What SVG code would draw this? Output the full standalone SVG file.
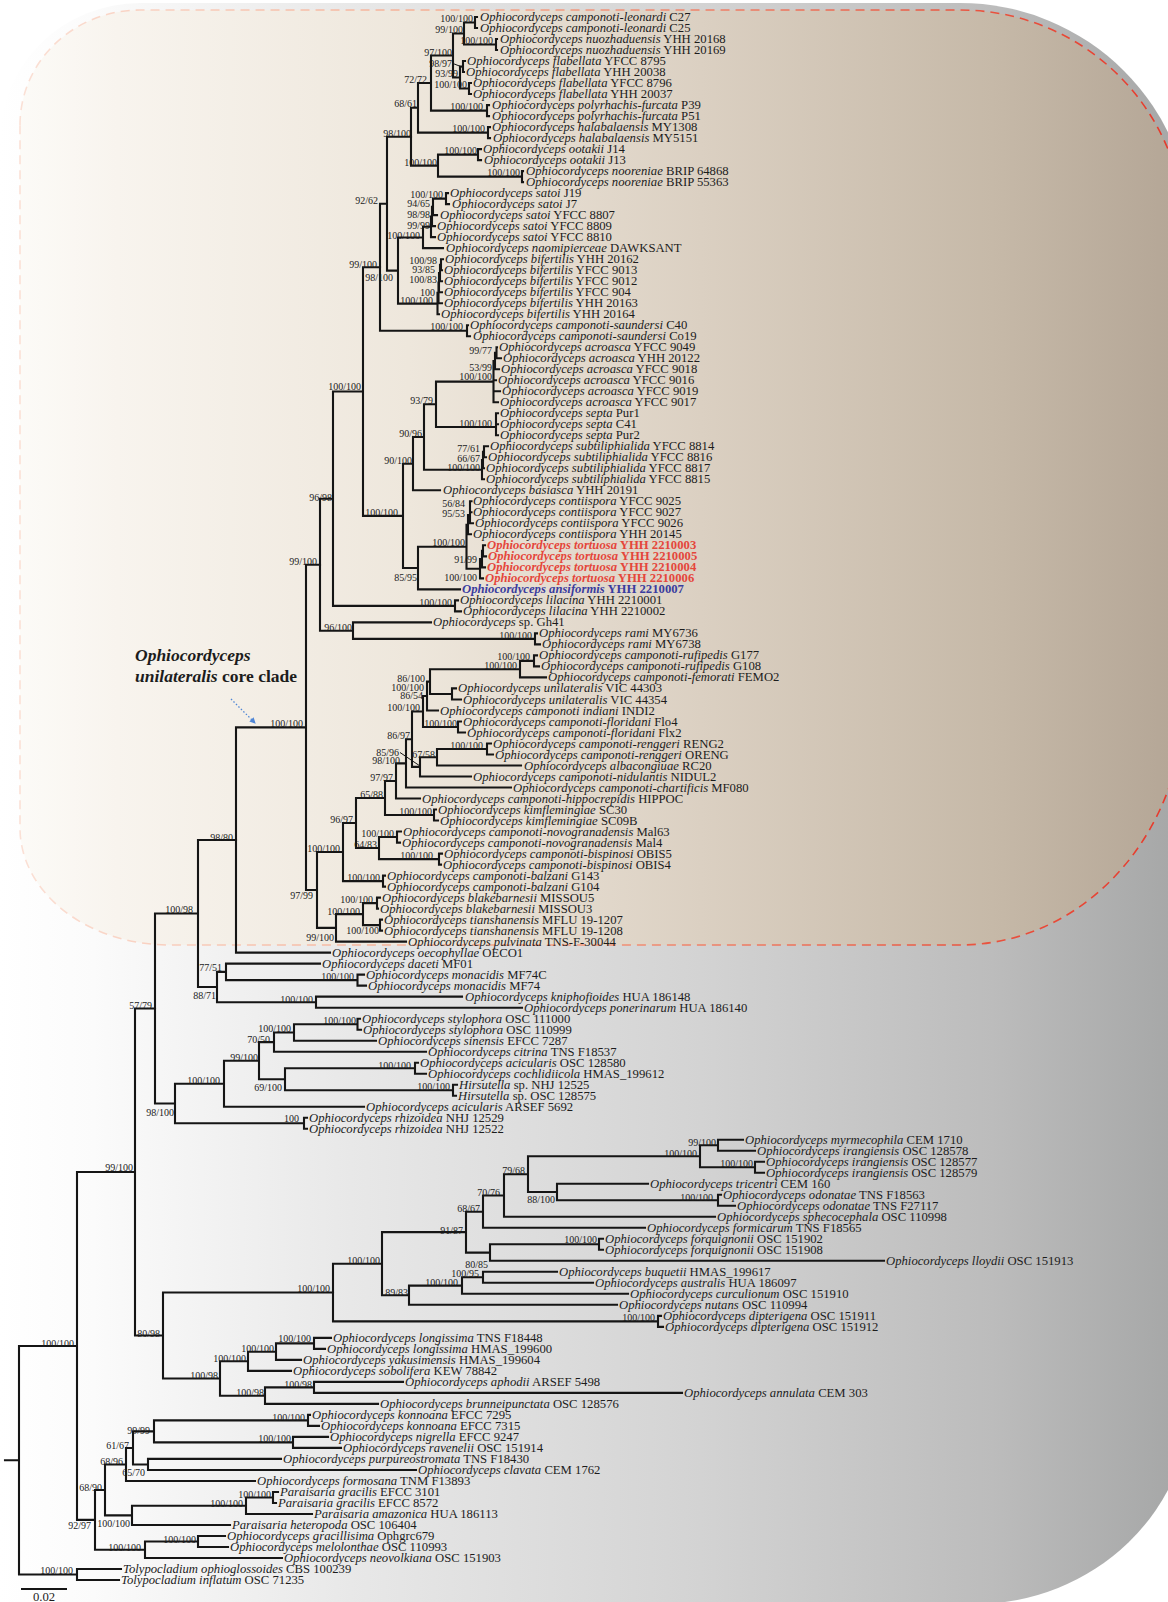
<svg xmlns="http://www.w3.org/2000/svg" width="1168" height="1602" viewBox="0 0 1168 1602">
<defs>
<linearGradient id="gg" x1="0" y1="0" x2="1168" y2="0" gradientUnits="userSpaceOnUse">
<stop offset="0" stop-color="#ffffff"/><stop offset="0.08" stop-color="#fbfbfb"/><stop offset="0.3" stop-color="#e8e8e8"/><stop offset="0.6" stop-color="#d3d3d3"/><stop offset="0.85" stop-color="#bcbcbc"/><stop offset="1" stop-color="#a7a8a8"/>
</linearGradient>
<linearGradient id="tg" x1="0" y1="0" x2="1168" y2="0" gradientUnits="userSpaceOnUse">
<stop offset="0" stop-color="#fdfcf9"/><stop offset="0.1" stop-color="#f8f4ee"/><stop offset="0.35" stop-color="#eee7dc"/><stop offset="0.6" stop-color="#dbd0c2"/><stop offset="0.85" stop-color="#c6b9a8"/><stop offset="1" stop-color="#b5a797"/>
</linearGradient>
<linearGradient id="dg" x1="0" y1="0" x2="1168" y2="0" gradientUnits="userSpaceOnUse">
<stop offset="0" stop-color="#fbe3d9"/><stop offset="0.4" stop-color="#f4aa8e"/><stop offset="0.8" stop-color="#ea5a44"/><stop offset="1" stop-color="#e63a2c"/>
</linearGradient>
<marker id="ah" markerWidth="6" markerHeight="6" refX="5" refY="3" orient="auto" markerUnits="userSpaceOnUse"><path d="M0,0 L6,3 L0,6 z" fill="#4f86d6"/></marker>
</defs>
<style>
text{font-family:"Liberation Serif","Times New Roman",serif;fill:#1c1c1c}
.tip text{font-size:12.7px}
.i{font-style:italic}
.sup text{font-size:10px;text-anchor:end}
.br{fill:none;stroke:#151515;stroke-width:2.1;stroke-linecap:square}
.red text{fill:#e5463b;font-weight:bold}
.blue text{fill:#3a3c9e;font-weight:bold}
</style>
<rect width="1168" height="1602" fill="#ffffff"/>
<path d="M0,140 A140,137 0 0 1 140,3 H960 A232,232 0 0 1 1192,235 V1394 A217,210 0 0 1 975,1604 H0 Z" fill="url(#gg)"/>
<path d="M20,125 A120,115 0 0 1 140,10 H960 A225,225 0 0 1 1185,235 V695 A225,250 0 0 1 960,945 H170 A150,117 0 0 1 20,828 Z" fill="url(#tg)" stroke="url(#dg)" stroke-width="1.6" stroke-dasharray="9 6"/>

<g id="connectors">
<path class="br" d="M475 17V28 M475 17H477 M475 28H477 M496 39V50 M496 39H497 M496 50H497 M464 22.5V44.5 M464 22.5H475 M464 44.5H496 M463 61V72 M463 61H465 M463 72H464 M469 83V94 M469 83H471 M469 94H471 M460 66.5V88.5 M460 66.5H463 M460 88.5H469 M453 33.5V77.5 M453 33.5H464 M453 77.5H460 M487 105.1V116.1 M487 105.1H489 M487 116.1H489 M431 55.5V110.6 M431 55.5H453 M431 110.6H487 M488 127.1V138.1 M488 127.1H490 M488 138.1H490 M418 83V132.6 M418 83H431 M418 132.6H488 M478 149.1V160.1 M478 149.1H481 M478 160.1H481 M522 171.1V182.1 M522 171.1H523 M522 182.1H523 M438 154.6V176.6 M438 154.6H478 M438 176.6H522 M411 107.8V165.6 M411 107.8H418 M411 165.6H438"/>
<path class="br" d="M446 193.1V204.1 M446 193.1H448 M446 204.1H449 M433 198.6V215.1 M433 198.6H446 M433 215.1H437 M432 206.9V226.1 M432 226.1H435 M431 216.5V237.1 M431 237.1H435 M423 226.8V248.1 M423 226.8H431 M423 248.1H443 M441 259.2V270.2 M441 259.2H443 M441 270.2H442 M440 264.7V281.2 M440 281.2H442 M439 273V292.2 M439 292.2H442 M438.5 282.6V303.2 M438.5 303.2H442 M437.5 292.9V314.2 M437.5 314.2H439 M398 237.5V303.6 M398 237.5H423 M398 303.6H437.5 M387 136.7V270.6 M387 136.7H411 M387 270.6H398 M467 325.2V336.2 M467 325.2H468 M467 336.2H470 M380 203.7V330.7 M380 203.7H387 M380 330.7H467"/>
<path class="br" d="M496.5 347.2V358.2 M496.5 347.2H497 M496.5 358.2H501 M495 352.7V369.2 M495 369.2H499 M493.5 361V402.2 M493.5 380.2H496 M493.5 391.2H500 M493.5 402.2H498 M496 413.3V435.3 M496 413.3H498 M496 424.3H498 M496 435.3H498 M436 381.6V427 M436 381.6H493.5 M436 427H496 M484 446.3V457.3 M484 446.3H488 M484 457.3H486 M483 451.8V468.3 M483 468.3H484 M482 460V479.3 M482 479.3H484 M424 404.3V469.7 M424 404.3H436 M424 469.7H482 M413 437V490.3 M413 437H424 M413 490.3H440 M483 545.3V556.4 M483 545.3H485 M483 556.4H486 M482 550.9V567.4 M482 567.4H485 M480 559V578.4 M480 578.4H483 M470 501.3V523.3 M470 501.3H471.5 M470 512.3H471.5 M470 523.3H473 M468 515V534.3 M468 534.3H471 M466.5 524.7V568.7 M466.5 524.7H468 M466.5 568.7H480 M418 546.7V589.4 M418 546.7H466.5 M418 589.4H460 M403 463.7V568 M403 463.7H413 M403 568H418 M363 267.2V515.9 M363 267.2H380 M363 515.9H403 M455 600.4V611.4 M455 600.4H458 M455 611.4H461 M333 391.5V605.9 M333 391.5H363 M333 605.9H455 M535 633.4V644.4 M535 633.4H537 M535 644.4H540 M353 622.4V638.9 M353 622.4H431 M353 638.9H535 M320 498.7V630.7 M320 498.7H333 M320 630.7H353"/>
<path class="br" d="M534 655.4V666.4 M534 655.4H537 M534 666.4H539 M520 660.9V677.4 M520 660.9H534 M520 677.4H546 M452 688.4V699.5 M452 688.4H456 M452 699.5H461 M430 669.2V694 M430 669.2H520 M430 694H452 M427 681.6V710.5 M427 681.6H430 M427 710.5H438 M458 721.5V732.5 M458 721.5H461 M458 732.5H465 M423 696V727 M423 696H427 M423 727H458 M487 743.5V754.5 M487 743.5H491 M487 754.5H493 M437 749V765.5 M437 749H487 M437 765.5H521 M420 757.3V776.5 M420 757.3H437 M420 776.5H471 M412 711.5V766.9 M412 711.5H423 M412 766.9H420 M406 739.2V787.5 M406 739.2H412 M406 787.5H511 M396 763.4V798.5 M396 763.4H406 M396 798.5H420 M434 809.5V820.5 M434 809.5H436 M434 820.5H438 M385 781V815 M385 781H396 M385 815H434 M397 831.5V842.6 M397 831.5H401 M397 842.6H400 M439 853.6V864.6 M439 853.6H442 M439 864.6H441 M379 837V859.1 M379 837H397 M379 859.1H439 M356 798V848 M356 798H385 M356 848H379 M383 875.6V886.6 M383 875.6H385 M383 886.6H385 M343 823V881.1 M343 823H356 M343 881.1H383 M377 897.6V908.6 M377 897.6H380 M377 908.6H378 M380 919.6V930.6 M380 919.6H382 M380 930.6H382 M363 903.1V925.1 M363 903.1H377 M363 925.1H380 M336 914.1V941.6 M336 914.1H363 M336 941.6H406 M317 852V927.9 M317 852H343 M317 927.9H336 M306 564.7V890 M306 564.7H320 M306 890H317 M236 727.4V952.6 M236 727.4H306 M236 952.6H330"/>
<path class="br" d="M357.5 974.6V985.6 M357.5 974.6H364 M357.5 985.6H366 M226 963.6V980.1 M226 963.6H320 M226 980.1H357.5 M316 996.6V1007.7 M316 996.6H462 M316 1007.7H522 M217 971.9V1002.2 M217 971.9H226 M217 1002.2H316 M198 840V987 M198 840H236 M198 987H217 M357.5 1018.7V1029.7 M357.5 1018.7H360 M357.5 1029.7H361 M294 1024.2V1040.7 M294 1024.2H357.5 M294 1040.7H376 M274 1032.5V1051.7 M274 1032.5H294 M274 1051.7H426 M415 1062.7V1073.7 M415 1062.7H418 M415 1073.7H426 M453 1084.7V1095.7 M453 1084.7H457 M453 1095.7H456 M285 1068.2V1090.2 M285 1068.2H415 M285 1090.2H453 M259 1042.1V1079.2 M259 1042.1H274 M259 1079.2H285 M224 1060.7V1106.7 M224 1060.7H259 M224 1106.7H364 M304 1117.7V1128.7 M304 1117.7H307 M304 1128.7H307 M175 1083.7V1123.2 M175 1083.7H224 M175 1123.2H304 M155 913.5V1103.5 M155 913.5H198 M155 1103.5H175"/>
<path class="br" d="M718 1139.7V1150.7 M718 1139.7H743 M718 1150.7H755 M755 1161.8V1172.8 M755 1161.8H764 M755 1172.8H764 M700 1145.2V1167.3 M700 1145.2H718 M700 1167.3H755 M718 1194.8V1205.8 M718 1194.8H721 M718 1205.8H735 M557 1183.8V1200.3 M557 1183.8H648 M557 1200.3H718 M528 1156.3V1192 M528 1156.3H700 M528 1192H557 M504 1174.2V1216.8 M504 1174.2H528 M504 1216.8H715 M483 1195.5V1227.8 M483 1195.5H504 M483 1227.8H645 M599 1238.8V1249.8 M599 1238.8H603 M599 1249.8H603 M490 1244.3V1260.8 M490 1244.3H599 M490 1260.8H884 M466 1211.7V1252.6 M466 1211.7H483 M466 1252.6H490 M483 1271.8V1282.8 M483 1271.8H557 M483 1282.8H593 M462 1277.3V1293.8 M462 1277.3H483 M462 1293.8H628 M409 1285.6V1304.8 M409 1285.6H462 M409 1304.8H617 M382 1232.1V1295.2 M382 1232.1H466 M382 1295.2H409 M658 1315.9V1326.9 M658 1315.9H661 M658 1326.9H663 M333 1263.7V1321.4 M333 1263.7H382 M333 1321.4H658"/>
<path class="br" d="M314 1337.9V1348.9 M314 1337.9H331 M314 1348.9H325 M276 1343.4V1359.9 M276 1343.4H314 M276 1359.9H301 M248 1351.7V1370.9 M248 1351.7H276 M248 1370.9H291 M314 1381.9V1392.9 M314 1381.9H403 M314 1392.9H682 M265 1387.4V1403.9 M265 1387.4H314 M265 1403.9H378 M220 1361.3V1395.7 M220 1361.3H248 M220 1395.7H265 M163 1292.5V1378.5 M163 1292.5H333 M163 1378.5H220 M135 1008.5V1335.5 M135 1008.5H155 M135 1335.5H163 M308 1414.9V1425.9 M308 1414.9H310 M308 1425.9H319 M293 1436.9V1447.9 M293 1436.9H328 M293 1447.9H341 M154 1420.4V1442.4 M154 1420.4H308 M154 1442.4H293 M148 1458.9V1470 M148 1458.9H281 M148 1470H416 M133 1431.4V1464.5 M133 1431.4H154 M133 1464.5H148 M126 1448V1481 M126 1448H133 M126 1481H255 M273 1492V1503 M273 1492H278 M273 1503H276 M246 1497.5V1514 M246 1497.5H273 M246 1514H312 M132 1505.8V1525 M132 1505.8H246 M132 1525H230 M105 1464.5V1515.4 M105 1464.5H126 M105 1515.4H132 M198 1536V1547 M198 1536H225 M198 1547H228 M145 1541.5V1558 M145 1541.5H198 M145 1558H282 M95 1490V1549.8 M95 1490H105 M95 1549.8H145 M77 1172V1519.9 M77 1172H135 M77 1519.9H95 M77 1569V1580 M77 1569H121 M77 1580H119 M19 1346V1574.5 M19 1346H77 M19 1574.5H77 M5 1460.3H19"/>
<path d="M453 63.5 L462 67 M400 752.5 L420 766" stroke="#151515" stroke-width="1" fill="none"/>
<path d="M231 699 L255 723" stroke="#4f86d6" stroke-width="1.3" stroke-dasharray="1.5 2" fill="none" marker-end="url(#ah)"/>
<path d="M21 1589H67" stroke="#151515" stroke-width="2"/>
</g>

<g class="sup" id="supports">
<text x="473" y="21.5">100/100</text><text x="463" y="32.5">99/100</text><text x="493" y="43.5">100/100</text><text x="452" y="55.5">97/100</text><text x="452" y="66.5">98/97</text><text x="458" y="76.5">93/99</text><text x="467" y="87.5">100/100</text><text x="427" y="82.5">72/72</text><text x="483" y="109.5">100/100</text><text x="417" y="106.5">68/61</text><text x="485" y="131.5">100/100</text><text x="411" y="136.5">98/100</text><text x="477" y="153.5">100/100</text><text x="437" y="165.5">100/100</text><text x="520" y="175.5">100/100</text>
<text x="443" y="197.5">100/100</text><text x="378" y="203.5">92/62</text><text x="430" y="207">94/65</text><text x="430" y="218">98/98</text><text x="430" y="229">99/99</text><text x="420" y="238.5">100/100</text><text x="437" y="263.5">100/98</text><text x="377" y="267.5">99/100</text><text x="435" y="272.5">93/85</text><text x="393" y="280.5">98/100</text><text x="437" y="282.5">100/83</text><text x="435" y="295.5">100</text><text x="433" y="303.5">100/100</text><text x="463" y="329.5">100/100</text>
<text x="492" y="353.5">99/77</text><text x="492" y="371">53/99</text><text x="492" y="380">100/100</text><text x="361" y="389.5">100/100</text><text x="433" y="403.5">93/79</text><text x="492" y="426.5">100/100</text><text x="422" y="436.5">90/96</text><text x="480" y="451.5">77/61</text><text x="480" y="461.5">66/67</text><text x="412" y="463.5">90/100</text><text x="480" y="470.5">100/100</text><text x="332" y="500.5">96/98</text><text x="465" y="506.5">56/84</text><text x="398" y="515.5">100/100</text><text x="465" y="516.5">95/53</text><text x="465" y="545.5">100/100</text><text x="477" y="562.5">91/99</text><text x="317" y="564.5">99/100</text><text x="477" y="580.5">100/100</text><text x="417" y="580.5">85/95</text><text x="452" y="605.5">100/100</text><text x="352" y="630.5">96/100</text><text x="532" y="638.5">100/100</text>
<text x="530" y="659.5">100/100</text><text x="517" y="668.5">100/100</text><text x="425" y="681.5">86/100</text><text x="424" y="690.5">100/100</text><text x="423" y="698.5">86/54</text><text x="420" y="710.5">100/100</text><text x="303" y="726.5">100/100</text><text x="457" y="726.5">100/100</text><text x="410" y="738.5">86/97</text><text x="483" y="748.5">100/100</text><text x="399" y="755.5">85/96</text><text x="435" y="757.5">67/58</text><text x="400" y="763.5">98/100</text><text x="393" y="780.5">97/97</text><text x="383" y="797.5">65/88</text><text x="432" y="814.5">100/100</text><text x="353" y="822.5">96/97</text><text x="394" y="836.5">100/100</text><text x="233" y="840.5">98/80</text><text x="377" y="847.5">64/83</text><text x="340" y="851.5">100/100</text><text x="433" y="858.5">100/100</text><text x="380" y="880.5">100/100</text><text x="313" y="898.5">97/99</text><text x="373" y="902.5">100/100</text><text x="193" y="912.5">100/98</text><text x="360" y="914.5">100/100</text><text x="379" y="933.5">100/100</text><text x="334" y="940.5">99/100</text>
<text x="222" y="970.5">77/51</text><text x="354" y="979.5">100/100</text><text x="216" y="998.5">88/71</text><text x="313" y="1002.5">100/100</text><text x="152" y="1008.5">57/79</text><text x="356" y="1023.5">100/100</text><text x="291" y="1031.5">100/100</text><text x="270" y="1042.5">70/50</text><text x="258" y="1060.5">99/100</text><text x="411" y="1068.5">100/100</text><text x="220" y="1083.5">100/100</text><text x="450" y="1089.5">100/100</text><text x="282" y="1090.5">69/100</text><text x="174" y="1115.5">98/100</text><text x="299" y="1121.5">100</text><text x="133" y="1170.5">99/100</text>
<text x="716" y="1145.5">99/100</text><text x="697" y="1156.5">100/100</text><text x="753" y="1166.5">100/100</text><text x="525" y="1173.5">79/68</text><text x="500" y="1195.5">70/76</text><text x="713" y="1200.5">100/100</text><text x="555" y="1202.5">88/100</text><text x="480" y="1211.5">68/67</text><text x="463" y="1233.5">91/87</text><text x="597" y="1242.5">100/100</text><text x="380" y="1263.5">100/100</text><text x="488" y="1267.5">80/85</text><text x="479" y="1277">100/95</text><text x="458" y="1286">100/100</text><text x="330" y="1291.5">100/100</text><text x="408" y="1295.5">89/83</text><text x="655" y="1320.5">100/100</text><text x="160" y="1336.5">80/98</text><text x="311" y="1341.5">100/100</text><text x="74" y="1346.5">100/100</text><text x="274" y="1351.5">100/100</text><text x="246" y="1361.5">100/100</text><text x="218" y="1378.5">100/98</text><text x="312" y="1387.5">100/98</text><text x="264" y="1395.5">100/98</text>
<text x="305" y="1420.5">100/100</text><text x="150" y="1433.5">99/99</text><text x="291" y="1441.5">100/100</text><text x="129" y="1448.5">61/67</text><text x="123" y="1464.5">68/96</text><text x="145" y="1475.5">65/70</text><text x="102" y="1490.5">68/90</text><text x="271" y="1497.5">100/100</text><text x="243" y="1506.5">100/100</text><text x="130" y="1526.5">100/100</text><text x="91" y="1528.5">92/97</text><text x="196" y="1542.5">100/100</text><text x="141" y="1550.5">100/100</text><text x="73" y="1573.5">100/100</text>
</g>

<g class="tip">
<g id="tip001"><text x="480" y="21"><tspan class="i">Ophiocordyceps camponoti-leonardi</tspan> C27</text></g>
<g id="tip002"><text x="480" y="32"><tspan class="i">Ophiocordyceps camponoti-leonardi</tspan> C25</text></g>
<g id="tip003"><text x="500" y="43"><tspan class="i">Ophiocordyceps nuozhaduensis</tspan> YHH 20168</text></g>
<g id="tip004"><text x="500" y="54"><tspan class="i">Ophiocordyceps nuozhaduensis</tspan> YHH 20169</text></g>
<g id="tip005"><text x="467" y="65"><tspan class="i">Ophiocordyceps flabellata</tspan> YFCC 8795</text></g>
<g id="tip006"><text x="466" y="76"><tspan class="i">Ophiocordyceps flabellata</tspan> YHH 20038</text></g>
<g id="tip007"><text x="473" y="87"><tspan class="i">Ophiocordyceps flabellata</tspan> YFCC 8796</text></g>
<g id="tip008"><text x="473" y="98"><tspan class="i">Ophiocordyceps flabellata</tspan> YHH 20037</text></g>
<g id="tip009"><text x="492" y="109.1"><tspan class="i">Ophiocordyceps polyrhachis-furcata</tspan> P39</text></g>
<g id="tip010"><text x="492" y="120.1"><tspan class="i">Ophiocordyceps polyrhachis-furcata</tspan> P51</text></g>
<g id="tip011"><text x="492" y="131.1"><tspan class="i">Ophiocordyceps halabalaensis</tspan> MY1308</text></g>
<g id="tip012"><text x="493" y="142.1"><tspan class="i">Ophiocordyceps halabalaensis</tspan>  MY5151</text></g>
<g id="tip013"><text x="483" y="153.1"><tspan class="i">Ophiocordyceps ootakii</tspan> J14</text></g>
<g id="tip014"><text x="484" y="164.1"><tspan class="i">Ophiocordyceps ootakii</tspan> J13</text></g>
<g id="tip015"><text x="526" y="175.1"><tspan class="i">Ophiocordyceps nooreniae</tspan> BRIP 64868</text></g>
<g id="tip016"><text x="526" y="186.1"><tspan class="i">Ophiocordyceps nooreniae</tspan> BRIP 55363</text></g>
<g id="tip017"><text x="450" y="197.1"><tspan class="i">Ophiocordyceps satoi</tspan> J19</text></g>
<g id="tip018"><text x="452" y="208.1"><tspan class="i">Ophiocordyceps satoi</tspan> J7</text></g>
<g id="tip019"><text x="440" y="219.1"><tspan class="i">Ophiocordyceps satoi</tspan> YFCC 8807</text></g>
<g id="tip020"><text x="437" y="230.1"><tspan class="i">Ophiocordyceps satoi</tspan> YFCC 8809</text></g>
<g id="tip021"><text x="437" y="241.1"><tspan class="i">Ophiocordyceps satoi</tspan> YFCC 8810</text></g>
<g id="tip022"><text x="446" y="252.1"><tspan class="i">Ophiocordyceps naomipierceae</tspan> DAWKSANT</text></g>
<g id="tip023"><text x="445" y="263.2"><tspan class="i">Ophiocordyceps bifertilis</tspan> YHH 20162</text></g>
<g id="tip024"><text x="444" y="274.2"><tspan class="i">Ophiocordyceps bifertilis</tspan> YFCC 9013</text></g>
<g id="tip025"><text x="444" y="285.2"><tspan class="i">Ophiocordyceps bifertilis</tspan> YFCC 9012</text></g>
<g id="tip026"><text x="444" y="296.2"><tspan class="i">Ophiocordyceps bifertilis</tspan> YFCC 904</text></g>
<g id="tip027"><text x="444" y="307.2"><tspan class="i">Ophiocordyceps bifertilis</tspan> YHH 20163</text></g>
<g id="tip028"><text x="441" y="318.2"><tspan class="i">Ophiocordyceps bifertilis</tspan> YHH 20164</text></g>
<g id="tip029"><text x="470" y="329.2"><tspan class="i">Ophiocordyceps camponoti-saundersi</tspan> C40</text></g>
<g id="tip030"><text x="473" y="340.2"><tspan class="i">Ophiocordyceps camponoti-saundersi</tspan> Co19</text></g>
<g id="tip031"><text x="499" y="351.2"><tspan class="i">Ophiocordyceps acroasca</tspan> YFCC 9049</text></g>
<g id="tip032"><text x="503" y="362.2"><tspan class="i">Ophiocordyceps acroasca</tspan> YHH 20122</text></g>
<g id="tip033"><text x="501" y="373.2"><tspan class="i">Ophiocordyceps acroasca</tspan> YFCC 9018</text></g>
<g id="tip034"><text x="498" y="384.2"><tspan class="i">Ophiocordyceps acroasca</tspan> YFCC 9016</text></g>
<g id="tip035"><text x="502" y="395.2"><tspan class="i">Ophiocordyceps acroasca</tspan> YFCC 9019</text></g>
<g id="tip036"><text x="500" y="406.2"><tspan class="i">Ophiocordyceps acroasca</tspan> YFCC 9017</text></g>
<g id="tip037"><text x="500" y="417.3"><tspan class="i">Ophiocordyceps septa</tspan> Pur1</text></g>
<g id="tip038"><text x="500" y="428.3"><tspan class="i">Ophiocordyceps septa</tspan> C41</text></g>
<g id="tip039"><text x="500" y="439.3"><tspan class="i">Ophiocordyceps septa</tspan> Pur2</text></g>
<g id="tip040"><text x="490" y="450.3"><tspan class="i">Ophiocordyceps subtiliphialida</tspan> YFCC 8814</text></g>
<g id="tip041"><text x="488" y="461.3"><tspan class="i">Ophiocordyceps subtiliphialida</tspan> YFCC 8816</text></g>
<g id="tip042"><text x="486" y="472.3"><tspan class="i">Ophiocordyceps subtiliphialida</tspan> YFCC 8817</text></g>
<g id="tip043"><text x="486" y="483.3"><tspan class="i">Ophiocordyceps subtiliphialida</tspan> YFCC 8815</text></g>
<g id="tip044"><text x="443" y="494.3"><tspan class="i">Ophiocordyceps basiasca</tspan> YHH 20191</text></g>
<g id="tip045"><text x="473" y="505.3"><tspan class="i">Ophiocordyceps contiispora</tspan> YFCC 9025</text></g>
<g id="tip046"><text x="473" y="516.3"><tspan class="i">Ophiocordyceps contiispora</tspan> YFCC 9027</text></g>
<g id="tip047"><text x="475" y="527.3"><tspan class="i">Ophiocordyceps contiispora</tspan> YFCC 9026</text></g>
<g id="tip048"><text x="473" y="538.3"><tspan class="i">Ophiocordyceps contiispora</tspan> YHH 20145</text></g>
<g id="tip049" class="red"><text x="487" y="549.3"><tspan class="i">Ophiocordyceps tortuosa</tspan> YHH 2210003</text></g>
<g id="tip050" class="red"><text x="488" y="560.4"><tspan class="i">Ophiocordyceps tortuosa</tspan> YHH 2210005</text></g>
<g id="tip051" class="red"><text x="487" y="571.4"><tspan class="i">Ophiocordyceps tortuosa</tspan> YHH 2210004</text></g>
<g id="tip052" class="red"><text x="485" y="582.4"><tspan class="i">Ophiocordyceps tortuosa</tspan> YHH 2210006</text></g>
<g id="tip053" class="blue"><text x="462" y="593.4"><tspan class="i">Ophiocordyceps ansiformis</tspan> YHH 2210007</text></g>
<g id="tip054"><text x="460" y="604.4"><tspan class="i">Ophiocordyceps lilacina</tspan> YHH 2210001</text></g>
<g id="tip055"><text x="463" y="615.4"><tspan class="i">Ophiocordyceps lilacina</tspan> YHH 2210002</text></g>
<g id="tip056"><text x="433" y="626.4"><tspan class="i">Ophiocordyceps</tspan> sp. Gh41</text></g>
<g id="tip057"><text x="539" y="637.4"><tspan class="i">Ophiocordyceps rami</tspan> MY6736</text></g>
<g id="tip058"><text x="542" y="648.4"><tspan class="i">Ophiocordyceps rami</tspan> MY6738</text></g>
<g id="tip059"><text x="539" y="659.4"><tspan class="i">Ophiocordyceps camponoti-rufipedis</tspan> G177</text></g>
<g id="tip060"><text x="541" y="670.4"><tspan class="i">Ophiocordyceps camponoti-rufipedis</tspan> G108</text></g>
<g id="tip061"><text x="548" y="681.4"><tspan class="i">Ophiocordyceps camponoti-femorati</tspan> FEMO2</text></g>
<g id="tip062"><text x="458" y="692.4"><tspan class="i">Ophiocordyceps unilateralis</tspan> VIC 44303</text></g>
<g id="tip063"><text x="463" y="703.5"><tspan class="i">Ophiocordyceps unilateralis</tspan> VIC 44354</text></g>
<g id="tip064"><text x="440" y="714.5"><tspan class="i">Ophiocordyceps camponoti indiani</tspan> INDI2</text></g>
<g id="tip065"><text x="463" y="725.5"><tspan class="i">Ophiocordyceps camponoti-floridani</tspan> Flo4</text></g>
<g id="tip066"><text x="467" y="736.5"><tspan class="i">Ophiocordyceps camponoti-floridani</tspan> Flx2</text></g>
<g id="tip067"><text x="493" y="747.5"><tspan class="i">Ophiocordyceps camponoti-renggeri</tspan> RENG2</text></g>
<g id="tip068"><text x="495" y="758.5"><tspan class="i">Ophiocordyceps camponoti-renggeri</tspan> ORENG</text></g>
<g id="tip069"><text x="524" y="769.5"><tspan class="i">Ophiocordyceps albacongiuae</tspan> RC20</text></g>
<g id="tip070"><text x="473" y="780.5"><tspan class="i">Ophiocordyceps camponoti-nidulantis</tspan> NIDUL2</text></g>
<g id="tip071"><text x="513" y="791.5"><tspan class="i">Ophiocordyceps camponoti-chartificis</tspan> MF080</text></g>
<g id="tip072"><text x="422" y="802.5"><tspan class="i">Ophiocordyceps camponoti-hippocrepidis</tspan> HIPPOC</text></g>
<g id="tip073"><text x="438" y="813.5"><tspan class="i">Ophiocordyceps kimflemingiae</tspan> SC30</text></g>
<g id="tip074"><text x="440" y="824.5"><tspan class="i">Ophiocordyceps kimflemingiae</tspan> SC09B</text></g>
<g id="tip075"><text x="403" y="835.5"><tspan class="i">Ophiocordyceps camponoti-novogranadensis</tspan> Mal63</text></g>
<g id="tip076"><text x="402" y="846.6"><tspan class="i">Ophiocordyceps camponoti-novogranadensis</tspan> Mal4</text></g>
<g id="tip077"><text x="444" y="857.6"><tspan class="i">Ophiocordyceps camponoti-bispinosi</tspan> OBIS5</text></g>
<g id="tip078"><text x="443" y="868.6"><tspan class="i">Ophiocordyceps camponoti-bispinosi</tspan> OBIS4</text></g>
<g id="tip079"><text x="387" y="879.6"><tspan class="i">Ophiocordyceps camponoti-balzani</tspan> G143</text></g>
<g id="tip080"><text x="387" y="890.6"><tspan class="i">Ophiocordyceps camponoti-balzani</tspan> G104</text></g>
<g id="tip081"><text x="382" y="901.6"><tspan class="i">Ophiocordyceps blakebarnesii</tspan> MISSOU5</text></g>
<g id="tip082"><text x="380" y="912.6"><tspan class="i">Ophiocordyceps blakebarnesii</tspan> MISSOU3</text></g>
<g id="tip083"><text x="384" y="923.6"><tspan class="i">Ophiocordyceps tianshanensis</tspan> MFLU 19-1207</text></g>
<g id="tip084"><text x="384" y="934.6"><tspan class="i">Ophiocordyceps tianshanensis</tspan> MFLU 19-1208</text></g>
<g id="tip085"><text x="408" y="945.6"><tspan class="i">Ophiocordyceps pulvinata</tspan> TNS-F-30044</text></g>
<g id="tip086"><text x="332" y="956.6"><tspan class="i">Ophiocordyceps oecophyllae</tspan> OECO1</text></g>
<g id="tip087"><text x="322" y="967.6"><tspan class="i">Ophiocordyceps daceti</tspan> MF01</text></g>
<g id="tip088"><text x="366" y="978.6"><tspan class="i">Ophiocordyceps monacidis</tspan> MF74C</text></g>
<g id="tip089"><text x="368" y="989.6"><tspan class="i">Ophiocordyceps monacidis</tspan> MF74</text></g>
<g id="tip090"><text x="465" y="1000.6"><tspan class="i">Ophiocordyceps kniphofioides</tspan> HUA 186148</text></g>
<g id="tip091"><text x="524" y="1011.7"><tspan class="i">Ophiocordyceps ponerinarum</tspan> HUA 186140</text></g>
<g id="tip092"><text x="362" y="1022.7"><tspan class="i">Ophiocordyceps stylophora</tspan> OSC 111000</text></g>
<g id="tip093"><text x="363" y="1033.7"><tspan class="i">Ophiocordyceps stylophora</tspan> OSC 110999</text></g>
<g id="tip094"><text x="378" y="1044.7"><tspan class="i">Ophiocordyceps sinensis</tspan> EFCC 7287</text></g>
<g id="tip095"><text x="428" y="1055.7"><tspan class="i">Ophiocordyceps citrina</tspan> TNS F18537</text></g>
<g id="tip096"><text x="420" y="1066.7"><tspan class="i">Ophiocordyceps acicularis</tspan> OSC 128580</text></g>
<g id="tip097"><text x="428" y="1077.7"><tspan class="i">Ophiocordyceps cochlidiicola</tspan> HMAS_199612</text></g>
<g id="tip098"><text x="459" y="1088.7"><tspan class="i">Hirsutella</tspan> sp. NHJ 12525</text></g>
<g id="tip099"><text x="458" y="1099.7"><tspan class="i">Hirsutella</tspan> sp. OSC 128575</text></g>
<g id="tip100"><text x="366" y="1110.7"><tspan class="i">Ophiocordyceps acicularis</tspan> ARSEF 5692</text></g>
<g id="tip101"><text x="309" y="1121.7"><tspan class="i">Ophiocordyceps rhizoidea</tspan> NHJ 12529</text></g>
<g id="tip102"><text x="309" y="1132.7"><tspan class="i">Ophiocordyceps rhizoidea</tspan> NHJ 12522</text></g>
<g id="tip103"><text x="745" y="1143.7"><tspan class="i">Ophiocordyceps myrmecophila</tspan> CEM 1710</text></g>
<g id="tip104"><text x="757" y="1154.7"><tspan class="i">Ophiocordyceps irangiensis</tspan> OSC 128578</text></g>
<g id="tip105"><text x="766" y="1165.8"><tspan class="i">Ophiocordyceps irangiensis</tspan> OSC 128577</text></g>
<g id="tip106"><text x="766" y="1176.8"><tspan class="i">Ophiocordyceps irangiensis</tspan> OSC 128579</text></g>
<g id="tip107"><text x="650" y="1187.8"><tspan class="i">Ophiocordyceps tricentri</tspan> CEM 160</text></g>
<g id="tip108"><text x="723" y="1198.8"><tspan class="i">Ophiocordyceps odonatae</tspan> TNS F18563</text></g>
<g id="tip109"><text x="737" y="1209.8"><tspan class="i">Ophiocordyceps odonatae</tspan> TNS F27117</text></g>
<g id="tip110"><text x="717" y="1220.8"><tspan class="i">Ophiocordyceps sphecocephala</tspan> OSC 110998</text></g>
<g id="tip111"><text x="647" y="1231.8"><tspan class="i">Ophiocordyceps formicarum</tspan> TNS F18565</text></g>
<g id="tip112"><text x="605" y="1242.8"><tspan class="i">Ophiocordyceps forquignonii</tspan> OSC 151902</text></g>
<g id="tip113"><text x="605" y="1253.8"><tspan class="i">Ophiocordyceps forquignonii</tspan> OSC 151908</text></g>
<g id="tip114"><text x="886" y="1264.8"><tspan class="i">Ophiocordyceps lloydii</tspan> OSC 151913</text></g>
<g id="tip115"><text x="559" y="1275.8"><tspan class="i">Ophiocordyceps buquetii</tspan> HMAS_199617</text></g>
<g id="tip116"><text x="595" y="1286.8"><tspan class="i">Ophiocordyceps australis</tspan> HUA 186097</text></g>
<g id="tip117"><text x="630" y="1297.8"><tspan class="i">Ophiocordyceps curculionum</tspan> OSC 151910</text></g>
<g id="tip118"><text x="619" y="1308.8"><tspan class="i">Ophiocordyceps nutans</tspan> OSC 110994</text></g>
<g id="tip119"><text x="663" y="1319.9"><tspan class="i">Ophiocordyceps dipterigena</tspan> OSC 151911</text></g>
<g id="tip120"><text x="665" y="1330.9"><tspan class="i">Ophiocordyceps dipterigena</tspan> OSC 151912</text></g>
<g id="tip121"><text x="333" y="1341.9"><tspan class="i">Ophiocordyceps longissima</tspan> TNS F18448</text></g>
<g id="tip122"><text x="327" y="1352.9"><tspan class="i">Ophiocordyceps longissima</tspan> HMAS_199600</text></g>
<g id="tip123"><text x="303" y="1363.9"><tspan class="i">Ophiocordyceps yakusimensis</tspan> HMAS_199604</text></g>
<g id="tip124"><text x="293" y="1374.9"><tspan class="i">Ophiocordyceps sobolifera</tspan> KEW 78842</text></g>
<g id="tip125"><text x="405" y="1385.9"><tspan class="i">Ophiocordyceps aphodii</tspan> ARSEF 5498</text></g>
<g id="tip126"><text x="684" y="1396.9"><tspan class="i">Ophiocordyceps annulata</tspan> CEM 303</text></g>
<g id="tip127"><text x="380" y="1407.9"><tspan class="i">Ophiocordyceps brunneipunctata</tspan> OSC 128576</text></g>
<g id="tip128"><text x="312" y="1418.9"><tspan class="i">Ophiocordyceps konnoana</tspan> EFCC 7295</text></g>
<g id="tip129"><text x="321" y="1429.9"><tspan class="i">Ophiocordyceps konnoana</tspan> EFCC 7315</text></g>
<g id="tip130"><text x="330" y="1440.9"><tspan class="i">Ophiocordyceps nigrella</tspan> EFCC 9247</text></g>
<g id="tip131"><text x="343" y="1451.9"><tspan class="i">Ophiocordyceps ravenelii</tspan> OSC 151914</text></g>
<g id="tip132"><text x="283" y="1462.9"><tspan class="i">Ophiocordyceps purpureostromata</tspan> TNS F18430</text></g>
<g id="tip133"><text x="418" y="1474"><tspan class="i">Ophiocordyceps clavata</tspan> CEM 1762</text></g>
<g id="tip134"><text x="257" y="1485"><tspan class="i">Ophiocordyceps formosana</tspan> TNM F13893</text></g>
<g id="tip135"><text x="280" y="1496"><tspan class="i">Paraisaria gracilis</tspan> EFCC 3101</text></g>
<g id="tip136"><text x="278" y="1507"><tspan class="i">Paraisaria gracilis</tspan> EFCC 8572</text></g>
<g id="tip137"><text x="314" y="1518"><tspan class="i">Paraisaria amazonica</tspan> HUA 186113</text></g>
<g id="tip138"><text x="232" y="1529"><tspan class="i">Paraisaria heteropoda</tspan> OSC 106404</text></g>
<g id="tip139"><text x="227" y="1540"><tspan class="i">Ophiocordyceps gracillisima</tspan> Ophgrc679</text></g>
<g id="tip140"><text x="230" y="1551"><tspan class="i">Ophiocordyceps melolonthae</tspan> OSC 110993</text></g>
<g id="tip141"><text x="284" y="1562"><tspan class="i">Ophiocordyceps neovolkiana</tspan> OSC 151903</text></g>
<g id="tip142"><text x="123" y="1573"><tspan class="i">Tolypocladium ophioglossoides</tspan> CBS 100239</text></g>
<g id="tip143"><text x="121" y="1584"><tspan class="i">Tolypocladium inflatum</tspan> OSC 71235</text></g>
</g>

<g id="clade-label">
<text x="135" y="661" style="font-size:17.5px;font-weight:bold;font-style:italic">Ophiocordyceps</text>
<text x="135" y="682" style="font-size:17.5px;font-weight:bold"><tspan class="i">unilateralis</tspan> core clade</text>
</g>
<g id="scale">
<text x="44" y="1601" style="font-size:12.7px;text-anchor:middle">0.02</text>
</g>
</svg>
